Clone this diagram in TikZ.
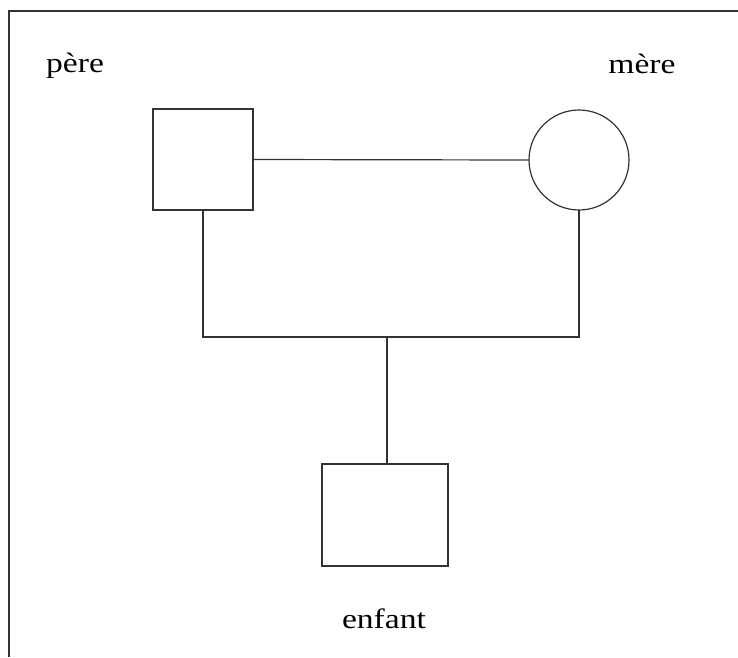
\documentclass[tikz,border=0pt]{standalone}
\usepackage{fontspec}
\setmainfont{Liberation Serif}
\begin{document}
\begin{tikzpicture}[x=1pt,y=-1pt,
  pbox/.style={draw=black!80,line width=1.2pt,inner sep=0pt,outer sep=0pt,fill=white},
  link/.style={draw=black!80,line width=1.2pt},
  lbl/.style={anchor=base,inner sep=0pt,font=\fontsize{28}{32}\selectfont}]
\useasboundingbox (0,0) rectangle (738,657);
\draw[black!80,line width=1.8pt] (9,657) -- (9,11) -- (738,11);
\node[pbox,minimum width=100pt,minimum height=101pt] (pere) at (203,159.5) {};
\node[pbox,circle,minimum size=100pt] (mere) at (579,160) {};
\node[pbox,minimum width=126pt,minimum height=102pt] (enfant) at (385,515) {};
\coordinate (jl) at (203,337);
\coordinate (jr) at (579,337);
\coordinate (jc) at (387,337);
\draw[link] (pere.east) -- (mere.west);
\draw[link] (pere.south) -- (jl) -- (jr) -- (mere.south);
\draw[link] (jc) -- (enfant.north -| jc);
\node[lbl] (tp) at (75,72) {\scalebox{1.2}[1]{père}};
\node[lbl] (tm) at (642,73) {\scalebox{1.2}[1]{mère}};
\node[lbl] (te) at (384,628) {\scalebox{1.2}[1]{enfant}};
\end{tikzpicture}
\end{document}
